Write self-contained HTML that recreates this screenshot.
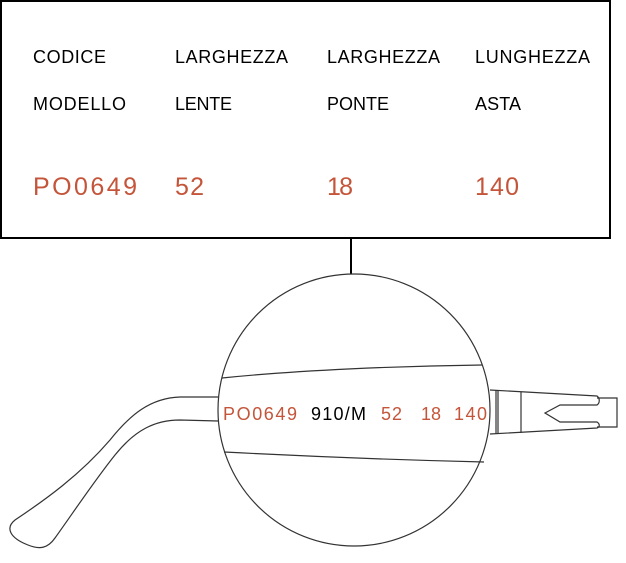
<!DOCTYPE html>
<html><head><style>
body{margin:0;background:#fff;width:626px;height:558px;overflow:hidden}
svg text{font-family:"Liberation Sans",sans-serif}
</style></head><body>
<svg width="626" height="558" viewBox="0 0 626 558" xmlns="http://www.w3.org/2000/svg">
<rect x="1" y="1" width="609" height="237" fill="#fff" stroke="#000" stroke-width="2"/>
<g font-size="18" fill="#000">
<text x="33" y="63" textLength="73">CODICE</text><text x="175" y="63" textLength="113">LARGHEZZA</text><text x="327" y="63" textLength="113">LARGHEZZA</text><text x="475" y="63" textLength="115">LUNGHEZZA</text>
<text x="33" y="110" textLength="93">MODELLO</text><text x="175" y="110" textLength="57">LENTE</text><text x="327" y="110" textLength="62">PONTE</text><text x="475" y="110" textLength="46">ASTA</text>
</g>
<g font-size="25" fill="#c4553a">
<text x="33" y="195" textLength="104">PO0649</text><text x="175" y="195" textLength="29">52</text><text x="327" y="195" textLength="26">18</text><text x="475" y="195" textLength="44">140</text>
</g>
<line x1="351" y1="238" x2="351" y2="274" stroke="#000" stroke-width="2"/>
<g fill="none" stroke="#333" stroke-width="1.2">
<path d="M218,397 L180,397 C150,398 130,415 110,440 C80,475 45,500 15,520 C5,528 10,538 28,545 C40,550 48,548 55,538 C75,510 95,480 115,455 C135,430 155,420 180,420 L218,421"/>
<ellipse cx="354" cy="410" rx="136" ry="136" fill="#fff"/>
<path d="M222,378 C300,370 400,366 482,365"/>
<path d="M224,452 C300,456 400,460 484,462"/>
<path d="M490,390 L597,396 C600,398 600,403 597,405 L560,405 L545,413 L560,422 L597,422 C600,424 600,427 597,428 L490,434"/>
<path d="M597,398 L617,398 L617,427 L597,427"/>
<line x1="496" y1="390" x2="496" y2="434"/><line x1="498" y1="390" x2="498" y2="434"/><line x1="521" y1="392" x2="521" y2="433"/>
</g>
<text x="223" y="420" font-size="18" fill="#c4553a" textLength="74">PO0649</text>
<text x="311" y="420" font-size="18" fill="#000" textLength="55">910/M</text>
<text x="381" y="420" font-size="18" fill="#c4553a" textLength="21">52</text>
<text x="421" y="420" font-size="18" fill="#c4553a" textLength="20">18</text>
<text x="454" y="420" font-size="18" fill="#c4553a" textLength="33">140</text>
</svg>
</body></html>
